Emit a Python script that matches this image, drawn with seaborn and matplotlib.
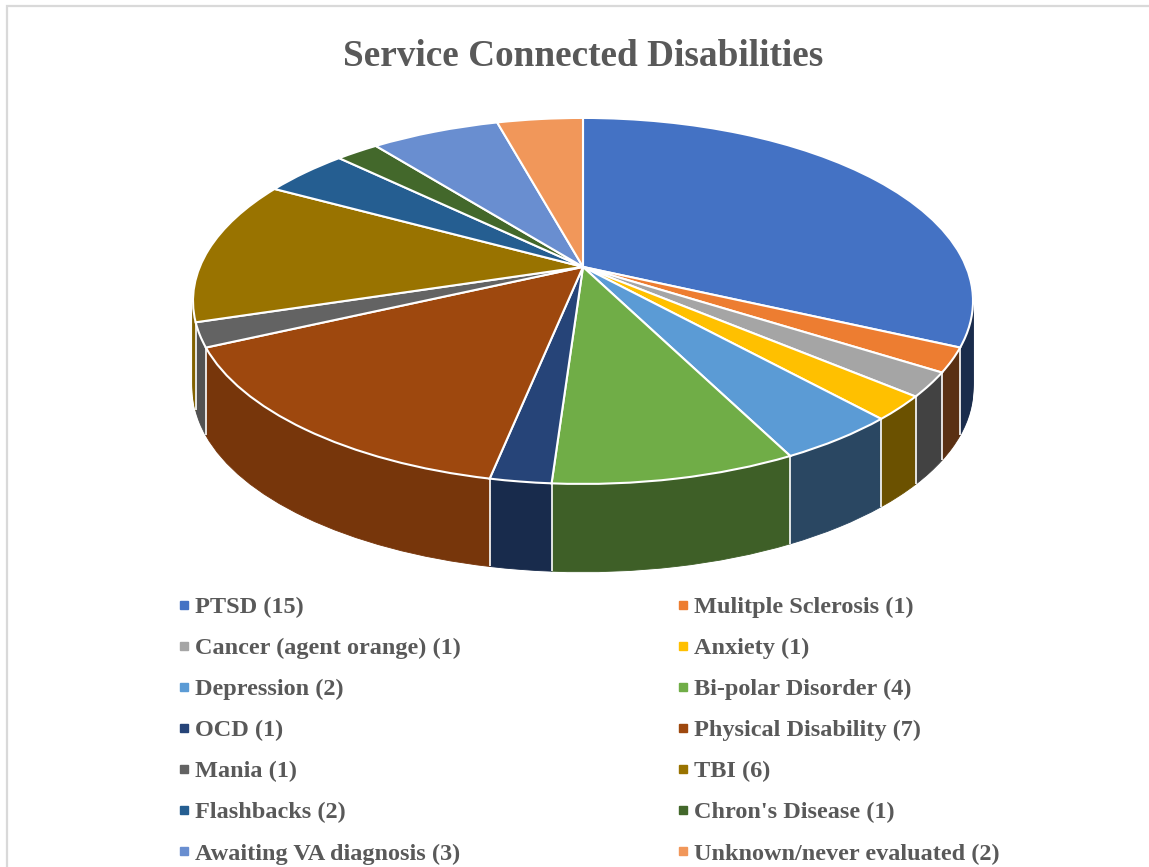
import numpy as np
import matplotlib
matplotlib.use("Agg")
import matplotlib.pyplot as plt
from matplotlib.lines import Line2D
from matplotlib.patches import Rectangle
from matplotlib.colors import to_rgb
from matplotlib.transforms import Transform, Affine2D
import seaborn as sns

# ---- data ----
categories = ["PTSD", "Mulitple Sclerosis ", "Cancer (agent orange)", "Anxiety",
              "Depression", "Bi-polar Disorder", "OCD", "Physical Disability",
              "Mania", "TBI", "Flashbacks", "Chron's Disease",
              "Awaiting VA diagnosis", "Unknown/never evaluated"]
counts = [15, 1, 1, 1, 2, 4, 1, 7, 1, 6, 2, 1, 3, 2]
colors = ["#4472C4", "#ED7D31", "#A5A5A5", "#FFC000", "#5B9BD5", "#70AD47",
          "#264478", "#9E480E", "#636363", "#997300", "#255E91", "#43682B",
          "#698ED0", "#F1975A"]
labels = [f"{c}({n})" if c.endswith(" ") else f"{c} ({n})" for c, n in zip(categories, counts)]

sns.set_theme(style="white")
plt.rcParams["font.family"] = ["Liberation Serif", "DejaVu Serif"]


class Perspective(Transform):
    """Simple projective tilt: the far side of the disc shrinks."""
    input_dims = 2
    output_dims = 2
    is_separable = False
    has_inverse = False

    def __init__(self, c):
        super().__init__()
        self.c = c
        self.a = np.sqrt(1 - c * c)

    def transform_non_affine(self, values):
        v = np.asarray(values, dtype=float).reshape(-1, 2)
        x, y = v[:, 0], v[:, 1]
        den = 1 + self.c * y
        return np.column_stack([self.a * x / den, (y + self.c) / den])


W, H = 1149, 867
fig = plt.figure(figsize=(W / 100, H / 100), dpi=100)
fig.patches.append(Rectangle((7 / W, -0.1), 1.2, (H - 6) / H + 0.1,
                             transform=fig.transFigure, fill=False,
                             edgecolor="#D9D9D9", linewidth=1.6))

ax = fig.add_axes([193 / W, (H - 590) / H, 780 / W, 490 / H])
persp = Perspective(0.186)
depth = 0.48
total = float(sum(counts))
cum = np.concatenate([[0], np.cumsum(np.array(counts, dtype=float))])
bounds = 90 - cum / total * 360.0
mids = np.deg2rad((bounds[:-1] + bounds[1:]) / 2)


def shade(c, f):
    r, g, b = to_rgb(c)
    return (r * f, g * f, b * f)


side_cols = [shade(c, np.clip(0.6 - 0.25 * np.cos(m), 0.3, 0.9)) for c, m in zip(colors, mids)]

nlay = 45
for k in range(nlay, 0, -1):
    wedges, _ = ax.pie(counts, colors=side_cols, startangle=90, counterclock=False,
                       wedgeprops=dict(linewidth=0.6))
    tr = persp + Affine2D().translate(0, -depth * k / nlay) + ax.transData
    for w, sc in zip(wedges, side_cols):
        w.set_edgecolor(sc)
        w.set_transform(tr)

# white boundary lines on the side (front half only)
th = np.deg2rad(bounds[:-1])
front = np.sin(th) < 0
P = persp.transform(np.column_stack([np.cos(th[front]), np.sin(th[front])]))
ax.vlines(P[:, 0], P[:, 1] - depth, P[:, 1], colors="white", linewidth=1.2, zorder=5)

wedges, _ = ax.pie(counts, colors=colors, startangle=90, counterclock=False,
                   wedgeprops=dict(linewidth=1.5, edgecolor="white"))
for w in wedges:
    w.set_zorder(10)
    w.set_transform(persp + ax.transData)

ax.set_aspect("auto")
ax.set_xlim(-1, 1)
ax.set_ylim(1.098 - 490 / 183, 1.098)
ax.axis("off")

# title
fig.text(583 / W, 1 - 57 / H, "Service Connected Disabilities", ha="center", va="center",
         fontsize=26.8, fontweight="bold", color="#595959")


def handles_for(idx):
    return [Line2D([], [], marker="s", linestyle="none", markersize=6,
                   markerfacecolor=colors[i], markeredgecolor=colors[i]) for i in idx]


left_idx = list(range(0, 14, 2))
right_idx = list(range(1, 14, 2))
common = dict(loc="upper left", frameon=False, handlelength=0.5,
              handletextpad=0.22, labelspacing=0.785, borderpad=0, borderaxespad=0,
              prop=dict(family="Liberation Serif", weight="bold", size=17.5),
              labelcolor="#595959")
fig.legend(handles_for(left_idx), [labels[i] for i in left_idx],
           bbox_to_anchor=(178 / W, 1 - 596 / H), **common)
fig.legend(handles_for(right_idx), [labels[i] for i in right_idx],
           bbox_to_anchor=(677 / W, 1 - 596 / H), **common)

fig.savefig("out.png", dpi=100, facecolor="white")
